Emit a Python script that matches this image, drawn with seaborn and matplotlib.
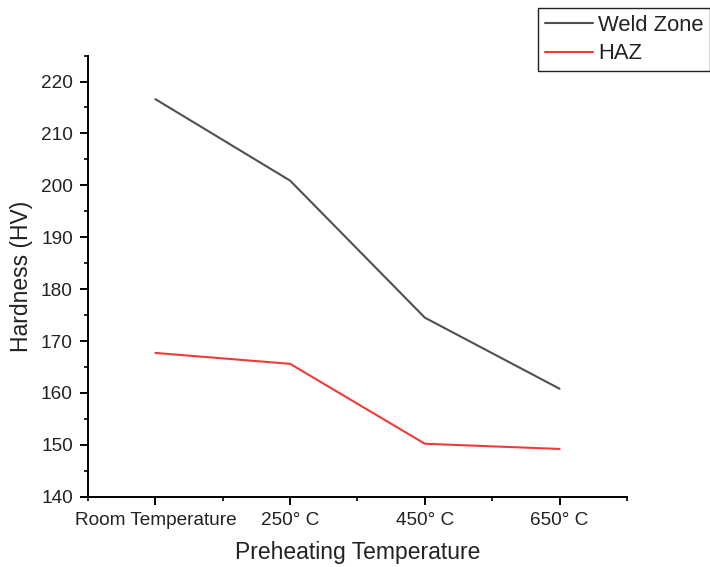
import matplotlib
matplotlib.use("Agg")
import matplotlib.pyplot as plt
from matplotlib.ticker import MultipleLocator
import seaborn as sns
import pandas as pd

temps = ["Room Temperature", "250° C", "450° C", "650° C"]
weld_zone = [216.6, 200.9, 174.5, 160.8]
haz = [167.7, 165.6, 150.2, 149.2]

df = pd.DataFrame({"temp": temps, "Weld Zone": weld_zone, "HAZ": haz})
df = df.melt(id_vars="temp", var_name="series", value_name="hardness")

sns.set_style("ticks")
plt.rcParams["font.family"] = ["Liberation Sans", "DejaVu Sans"]
plt.rcParams["text.color"] = "#222222"
plt.rcParams["axes.labelcolor"] = "#222222"

fig = plt.figure(figsize=(7.1, 5.67), dpi=100)
ax = fig.add_axes([0.124, 0.124, 0.759, 0.778])

sns.lineplot(data=df, x="temp", y="hardness", hue="series", sort=False,
             palette={"Weld Zone": "#505050", "HAZ": "#f03a3a"},
             linewidth=1.5, ax=ax)

ax.set_xlim(-0.5, 3.5)
ax.set_ylim(140, 225)
ax.yaxis.set_major_locator(MultipleLocator(10))
ax.yaxis.set_minor_locator(MultipleLocator(5))
ax.xaxis.set_minor_locator(MultipleLocator(0.5))
ax.set_xticks(range(len(temps)))
ax.set_xticklabels(temps)
ax.tick_params(axis="both", which="major", labelsize=13.7, length=6, width=1.4,
               direction="out", colors="black", labelcolor="#222222", pad=5)
ax.tick_params(axis="both", which="minor", length=3, width=1.4, direction="out")
for s in ["left", "bottom"]:
    ax.spines[s].set_linewidth(1.4)
    ax.spines[s].set_color("black")
sns.despine(ax=ax)

ax.set_xlabel("Preheating Temperature", fontsize=16.5, labelpad=9)
ax.set_ylabel("Hardness (HV)", fontsize=16.5, labelpad=6)

handles, labels = ax.get_legend_handles_labels()
ax.get_legend().remove()
leg = fig.legend(handles, labels, loc="upper left",
                 bbox_to_anchor=(538 / 710, 1 - 8 / 567),
                 fontsize=15.8, frameon=True, fancybox=False, framealpha=1,
                 handlelength=2.2, labelspacing=0.35, borderpad=0.3,
                 handletextpad=0.25, borderaxespad=0)
leg.get_frame().set_edgecolor("#222222")
leg.get_frame().set_linewidth(1.0)

fig.savefig("out.png", dpi=100)
